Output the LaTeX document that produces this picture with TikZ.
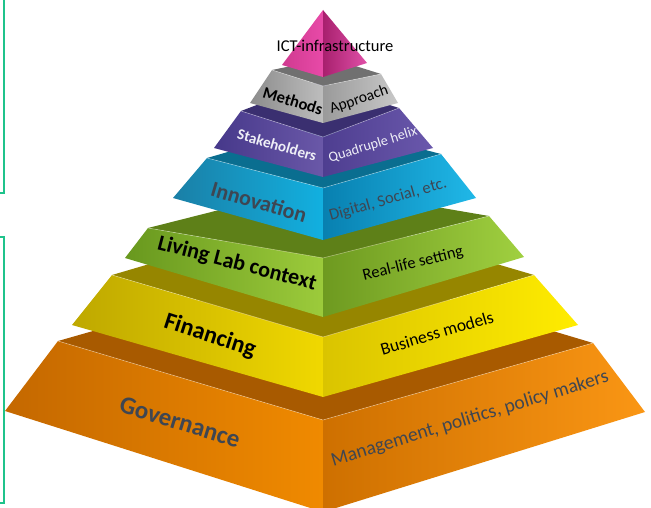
\documentclass[tikz,border=0pt]{standalone}
\usepackage{fontspec}
\setmainfont{Carlito}
\usetikzlibrary{calc}
\definecolor{brk}{HTML}{1FC38B}
\definecolor{txtgray}{HTML}{3E4652}
\definecolor{txtlight}{HTML}{EEEEF6}
% orange
\definecolor{oT}{HTML}{A85A00}\definecolor{oLa}{HTML}{C46800}\definecolor{oLc}{HTML}{F08A00}\definecolor{oRa}{HTML}{CE7000}\definecolor{oRc}{HTML}{FA9614}
% yellow
\definecolor{yT}{HTML}{968600}\definecolor{yLa}{HTML}{BEA800}\definecolor{yLc}{HTML}{F0D800}\definecolor{yRa}{HTML}{DAC400}\definecolor{yRc}{HTML}{FFEC00}
% green
\definecolor{eT}{HTML}{5E8018}\definecolor{eLa}{HTML}{68981E}\definecolor{eLc}{HTML}{9CCB3B}\definecolor{eRa}{HTML}{6E9A20}\definecolor{eRc}{HTML}{A0D040}
% cyan
\definecolor{cT}{HTML}{0A6E90}\definecolor{cLa}{HTML}{1A7FA6}\definecolor{cLc}{HTML}{12B0E0}\definecolor{cRa}{HTML}{0880B0}\definecolor{cRc}{HTML}{20B8E8}
% purple
\definecolor{uT}{HTML}{3A2F70}\definecolor{uLa}{HTML}{46388A}\definecolor{uLc}{HTML}{6A58A8}\definecolor{uRa}{HTML}{4E3E90}\definecolor{uRc}{HTML}{6A58AC}
% gray
\definecolor{gT}{HTML}{707070}\definecolor{gLa}{HTML}{8C8C8C}\definecolor{gLc}{HTML}{BDBDBD}\definecolor{gRa}{HTML}{9A9A9A}\definecolor{gRc}{HTML}{C8C8C8}
% pink
\definecolor{pLa}{HTML}{D03A90}\definecolor{pLc}{HTML}{E84AA8}\definecolor{pRa}{HTML}{A8206E}\definecolor{pRc}{HTML}{E050A8}
\newcommand\pyrslab[1]{%
  \fill[#1T] (#1L) -- (#1F) -- (#1R) -- ($(#1L)+(#1R)-(#1F)$) -- cycle;
  \shade[left color=#1La,right color=#1Lc] (#1L) -- (#1F) -- (#1Fb) -- (#1Lb) -- cycle;
  \shade[left color=#1Ra,right color=#1Rc] (#1F) -- (#1R) -- (#1Rb) -- (#1Fb) -- cycle;
  \draw[white,opacity=.4,line width=.6pt] (#1L) -- (#1F) -- (#1R);
}
\begin{document}
\begin{tikzpicture}[x=1pt,y=-1pt,
  lbl/.style={inner sep=0pt},
  bracket/.style={draw=brk,line width=2pt}]
\useasboundingbox (0,0) rectangle (651,508);
% brackets
\coordinate (b1a) at (4,-2);
\coordinate (b1b) at (4,193);
\coordinate (b1c) at (-2,193);
\draw[bracket] (b1a) -- (b1b) -- (b1c);
\coordinate (b2a) at (-2,237);
\coordinate (b2b) at (4,237);
\coordinate (b2c) at (4,503);
\coordinate (b2d) at (-2,503);
\draw[bracket] (b2a) -- (b2b) -- (b2c) -- (b2d);
% coordinates
\coordinate (A) at (323,10);
\coordinate (pLb) at (282,65); \coordinate (pFb) at (323,77); \coordinate (pRb) at (367,63);
\coordinate (gL) at (272,70); \coordinate (gF) at (323,86); \coordinate (gR) at (381,74);
\coordinate (gLb) at (250,103); \coordinate (gFb) at (323,123); \coordinate (gRb) at (398,103);
\coordinate (uL) at (241,111); \coordinate (uF) at (323,137); \coordinate (uR) at (399,108);
\coordinate (uLb) at (214,148); \coordinate (uFb) at (323,177); \coordinate (uRb) at (433,148);
\coordinate (cL) at (207,158); \coordinate (cF) at (323,188); \coordinate (cR) at (441,154);
\coordinate (cLb) at (173,198); \coordinate (cFb) at (323,240); \coordinate (cRb) at (476,198);
\coordinate (eL) at (148,228); \coordinate (eF) at (323,258); \coordinate (eR) at (489,216);
\coordinate (eLb) at (125,258); \coordinate (eFb) at (323,317); \coordinate (eRb) at (524,257);
\coordinate (yL) at (112,275); \coordinate (yF) at (323,337); \coordinate (yR) at (534,275);
\coordinate (yLb) at (72,325); \coordinate (yFb) at (323,397); \coordinate (yRb) at (578,325);
\coordinate (oL) at (58,341); \coordinate (oF) at (323,420); \coordinate (oR) at (593,343);
\coordinate (oLb) at (5,411); \coordinate (oFb) at (323,512); \coordinate (oRb) at (645,412);
% layers bottom to top
\pyrslab{o}
\pyrslab{y}
\pyrslab{e}
\pyrslab{c}
\pyrslab{u}
\pyrslab{g}
% apex
\shade[left color=pLa,right color=pLc] (A) -- (pFb) -- (pLb) -- cycle;
\shade[left color=pRa,right color=pRc] (A) -- (pRb) -- (pFb) -- cycle;
% labels
\node[lbl,font=\fontsize{16.5}{16.5}\selectfont] (tict) at (335,46) {ICT-infrastructure};
\node[lbl,font=\bfseries\fontsize{16.5}{16.5}\selectfont,rotate=-17] (tmet) at (293,101) {Methods};
\node[lbl,font=\fontsize{15.5}{15.5}\selectfont,rotate=19] (tapp) at (359,100) {Approach};
\node[lbl,font=\bfseries\fontsize{15.2}{15.2}\selectfont,text=txtlight,rotate=-16] (tsta) at (277,145) {Stakeholders};
\node[lbl,font=\fontsize{14.2}{14.2}\selectfont,text=txtlight,rotate=17] (tqua) at (373,145) {Quadruple helix};
\node[lbl,font=\bfseries\fontsize{22}{22}\selectfont,text=txtgray,rotate=-16.5] (tinn) at (259,202) {Innovation};
\node[lbl,font=\fontsize{16.5}{16.5}\selectfont,text=txtgray,rotate=16] (tdig) at (388,200) {Digital, Social, etc.};
\node[lbl,font=\bfseries\fontsize{22}{22}\selectfont,rotate=-14.5] (tliv) at (237,264) {Living Lab context};
\node[lbl,font=\fontsize{16.5}{16.5}\selectfont,rotate=14] (trea) at (413,264) {Real-life setting};
\node[lbl,font=\bfseries\fontsize{24}{24}\selectfont,rotate=-18] (tfin) at (210,336) {Financing};
\node[lbl,font=\fontsize{17.5}{17.5}\selectfont,rotate=16.5] (tbus) at (437,333) {Business models};
\node[lbl,font=\bfseries\fontsize{25}{25}\selectfont,text=txtgray,rotate=-17] (tgov) at (180,422) {Governance};
\node[lbl,font=\fontsize{19.5}{19.5}\selectfont,text=txtgray,rotate=17] (tman) at (470,419) {Management, politics, policy makers};
\end{tikzpicture}
\end{document}
